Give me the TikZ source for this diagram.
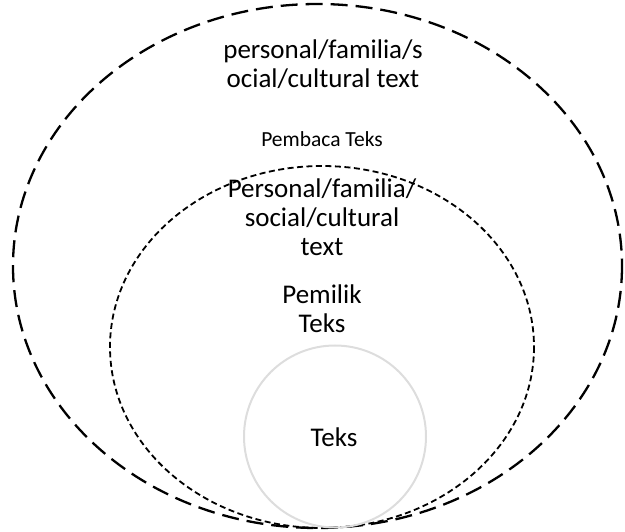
\documentclass[tikz,border=0pt]{standalone}
\usepackage{fontspec}
\setmainfont{Carlito}
\definecolor{ringgray}{HTML}{DDDDDD}
\begin{document}
\begin{tikzpicture}[x=1pt,y=-1pt,
  outerring/.style={draw=black,line width=2.3pt,dash pattern=on 17pt off 8pt},
  midring/.style={draw=black,line width=1.8pt,dash pattern=on 6pt off 3.5pt},
  innerring/.style={draw=ringgray,line width=2pt},
  bigtxt/.style={font=\fontsize{27}{29}\selectfont,align=center,inner sep=0pt},
  smalltxt/.style={font=\fontsize{21.5}{23}\selectfont,inner sep=0pt}]
\useasboundingbox (0,0) rectangle (625,532);
\draw[outerring] (317.5,266) ellipse [x radius=304.5, y radius=262];
\draw[midring] (322,347) ellipse [x radius=212, y radius=181];
\draw[innerring] (335,436.5) circle [radius=91];
\node[bigtxt] (outerlabel) at (323,64) {personal/familia/s\\ocial/cultural text};
\node[smalltxt] (reader) at (322,139) {Pembaca Teks};
\node[bigtxt] (midlabel) at (322,217) {Personal/familia/\\social/cultural\\text};
\node[bigtxt] (owner) at (322,309) {Pemilik\\Teks};
\node[bigtxt] (text) at (334,437) {Teks};
\end{tikzpicture}
\end{document}
